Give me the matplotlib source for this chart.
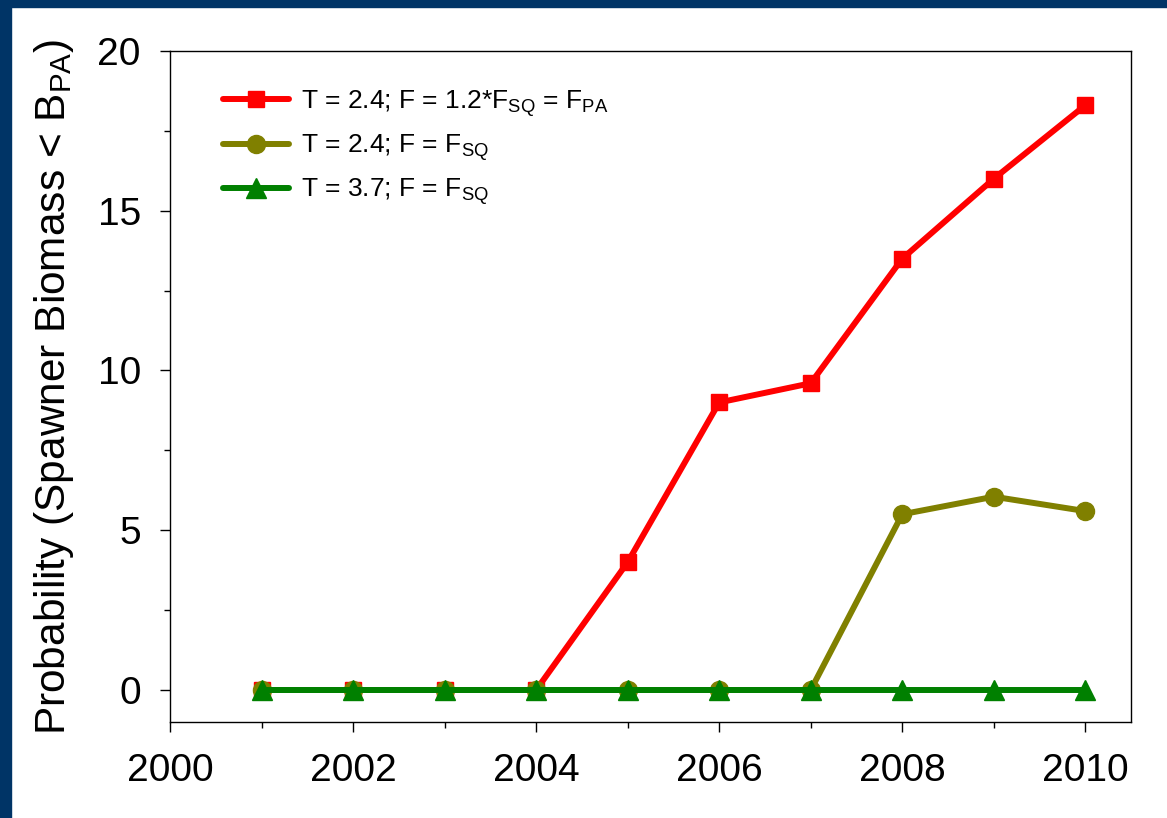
import matplotlib
matplotlib.use("Agg")
import matplotlib.pyplot as plt
import matplotlib.ticker as mt
from matplotlib.patches import Rectangle

plt.rcParams['font.family'] = ['Liberation Sans', 'DejaVu Sans']
plt.rcParams['mathtext.fontset'] = 'custom'
plt.rcParams['mathtext.rm'] = 'Liberation Sans'
plt.rcParams['mathtext.default'] = 'regular'

years = [2001, 2002, 2003, 2004, 2005, 2006, 2007, 2008, 2009, 2010]
prob_fpa = [0, 0, 0, 0, 4.0, 9.0, 9.6, 13.5, 16.0, 18.3]
prob_fsq_24 = [0, 0, 0, 0, 0, 0, 0, 5.5, 6.05, 5.6]
prob_fsq_37 = [0, 0, 0, 0, 0, 0, 0, 0, 0, 0]

labels = ["T = 2.4; F = 1.2*F$_{SQ}$ = F$_{PA}$",
          "T = 2.4; F = F$_{SQ}$",
          "T = 3.7; F = F$_{SQ}$"]
colours = ["#ff0000", "#808000", "#008000"]
markers = ["s", "o", "^"]
msizes = [12, 13, 14]

fig = plt.figure(figsize=(11.67, 8.18), dpi=100)
fig.patch.set_facecolor("white")

# navy slide border (left and top)
navy = "#003466"
fig.patches.append(Rectangle((0, 0), 11 / 1167, 1, transform=fig.transFigure, color=navy, zorder=0))
fig.patches.append(Rectangle((0, 1 - 7 / 818), 1, 7 / 818, transform=fig.transFigure, color=navy, zorder=0))

ax = fig.add_axes([0.1457, 0.1174, 0.8235, 0.8203])

series = [prob_fpa, prob_fsq_24, prob_fsq_37]
for i in range(len(series)):
    ax.plot(years, series[i], color=colours[i], marker=markers[i], markersize=msizes[i],
            linewidth=4.3, label=labels[i], solid_capstyle="round")

ax.set_xlim(2000, 2010.5)
ax.set_ylim(-1, 20)

ax.xaxis.set_major_locator(mt.MultipleLocator(2))
ax.xaxis.set_minor_locator(mt.MultipleLocator(1))
ax.yaxis.set_major_locator(mt.MultipleLocator(5))
ax.yaxis.set_minor_locator(mt.MultipleLocator(2.5))

ax.tick_params(axis='both', which='major', direction='out', length=7, width=1, labelsize=28)
ax.tick_params(axis='both', which='minor', direction='out', length=4.5, width=1)
ax.tick_params(axis='x', which='major', pad=15)
ax.tick_params(axis='y', which='major', pad=14)
for s in ax.spines.values():
    s.set_linewidth(1)

ax.set_ylabel("Probability (Spawner Biomass < B$_{PA}$)", fontsize=30.5)
ax.yaxis.set_label_coords(-0.098, 0.5)

ax.legend(loc="upper left", bbox_to_anchor=(0.055, 0.945), frameon=False, fontsize=19,
          handlelength=2.5, handletextpad=0.45, labelspacing=0.52, borderpad=0, borderaxespad=0)

plt.savefig("out.png", dpi=100)
